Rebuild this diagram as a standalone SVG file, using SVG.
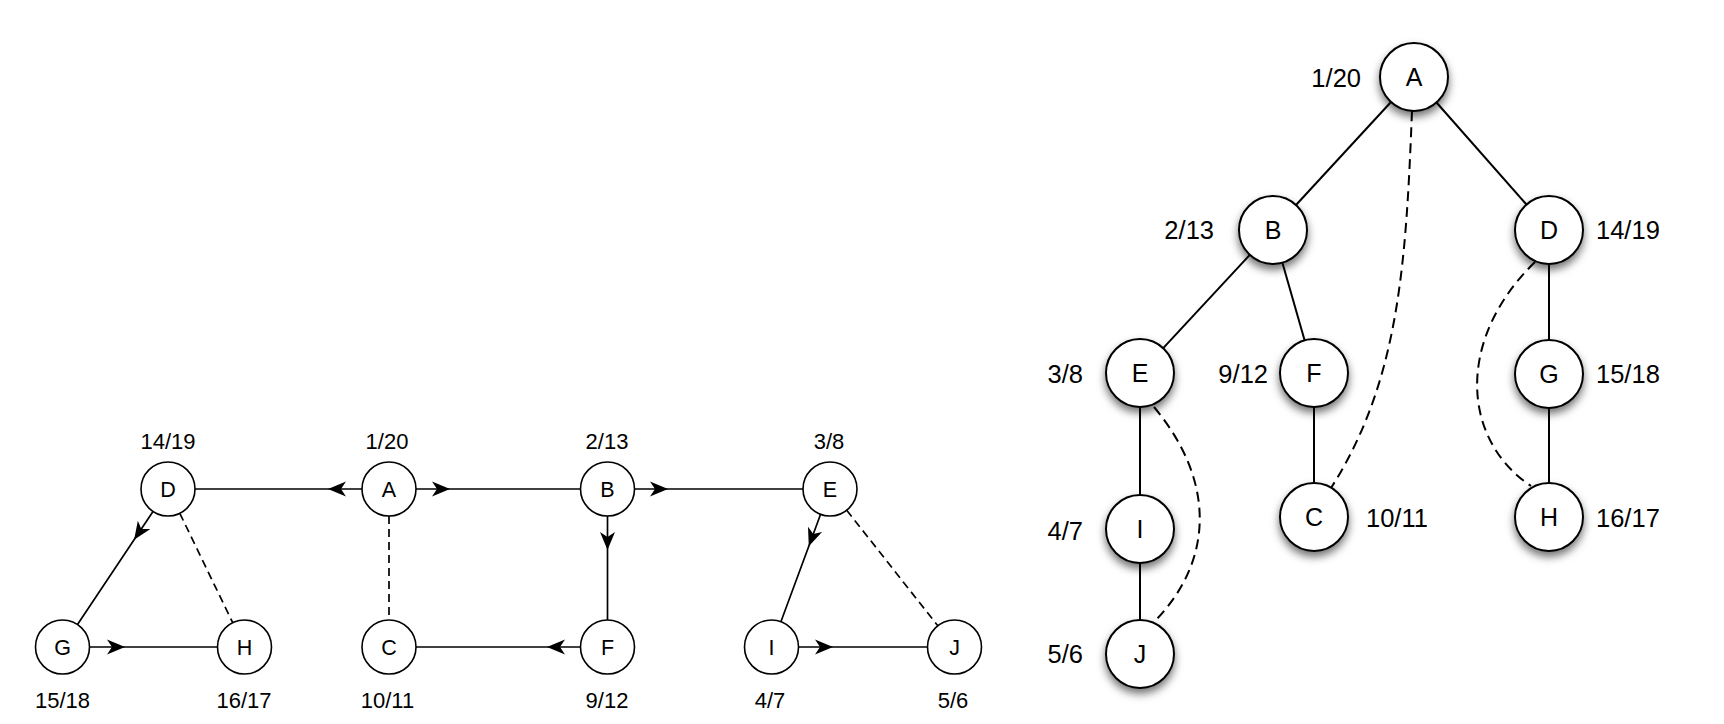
<svg xmlns="http://www.w3.org/2000/svg" width="1724" height="724" viewBox="0 0 1724 724">
<style>
.bg{fill:#fff}
.n1 circle{fill:#fff;stroke:#000;stroke-width:1.6}
.n2 circle{fill:#fff;stroke:#000;stroke-width:2;filter:url(#sh)}
text{font-family:"Liberation Sans",Arial,sans-serif;fill:#000}
.t1{font-size:21.5px;text-anchor:middle}
.t2{font-size:25px;text-anchor:middle}
.l1{font-size:22px;text-anchor:middle}
.l2{font-size:25.5px}
.e{fill:none;stroke:#000;stroke-width:1.7}
.e2{fill:none;stroke:#000;stroke-width:2}
.d1{stroke-dasharray:8 5}
.d2{stroke-dasharray:10 6}
.arr{marker-mid:url(#ah)}
</style>
<defs>
<marker id="ah" markerUnits="userSpaceOnUse" orient="auto" refX="0" refY="0" markerWidth="20" markerHeight="20" overflow="visible">
<path d="M0,0 L-18,-7.5 L-13,0 L-18,7.5 Z" fill="#000" stroke="none"/>
</marker>
<filter id="sh" x="-50%" y="-50%" width="200%" height="220%">
<feDropShadow dx="0" dy="5" stdDeviation="4" flood-color="#000" flood-opacity="0.55"/>
</filter>
</defs>
<rect class="bg" width="1724" height="724"/>
<g id="connectors">
<path class="e arr" d="M362,489 L328,489 L195,489"/>
<path class="e arr" d="M416,489 L450,489 L580,489"/>
<path class="e arr" d="M635,489 L668,489 L803,489"/>
<path class="e arr" d="M607.5,516 L607.5,550 L607.5,620"/>
<path class="e arr" d="M580,647 L547,647 L416,647"/>
<path class="e arr" d="M90,647 L125,647 L217,647"/>
<path class="e arr" d="M799,647 L833,647 L927,647"/>
<path class="e arr" d="M153,511.5 L134.1,539.8 L77.5,624.5"/>
<path class="e arr" d="M820.6,514.3 L808.8,546.2 L780.9,621.7"/>
<path class="e d1" d="M179.8,513.3 L232.7,622.7"/>
<path class="e d1" d="M846.7,510.2 L937.8,625.8"/>
<path class="e d1" d="M389,516 L389,620"/>
<path class="e2" d="M1391,102 L1296,205"/>
<path class="e2" d="M1436.5,102.5 L1526.5,204.5"/>
<path class="e2" d="M1249.8,254.9 L1163.2,348.1"/>
<path class="e2" d="M1282.4,262.7 L1304.6,340.3"/>
<path class="e2" d="M1140,407 L1140,495"/>
<path class="e2" d="M1140,563 L1140,620"/>
<path class="e2" d="M1314,407 L1314,483"/>
<path class="e2" d="M1549,264 L1549,340"/>
<path class="e2" d="M1549,408 L1549,483"/>
<path class="e2 d2" d="M1412,111 C1406,260 1400,380 1331,488"/>
<path class="e2 d2" d="M1154,407 C1215,480 1215,560 1154,622"/>
<path class="e2 d2" d="M1535,262 C1455,340 1462,440 1531,486"/>
</g>
<g id="L-D" class="n1"><circle cx="168" cy="489" r="27"/><text class="t1" x="168" y="497">D</text><text class="l1" x="168" y="449">14/19</text></g>
<g id="L-A" class="n1"><circle cx="389" cy="489" r="27"/><text class="t1" x="389" y="497">A</text><text class="l1" x="387" y="449">1/20</text></g>
<g id="L-B" class="n1"><circle cx="607.5" cy="489" r="27"/><text class="t1" x="607.5" y="497">B</text><text class="l1" x="607" y="449">2/13</text></g>
<g id="L-E" class="n1"><circle cx="830" cy="489" r="27"/><text class="t1" x="830" y="497">E</text><text class="l1" x="829" y="449">3/8</text></g>
<g id="L-G" class="n1"><circle cx="62.5" cy="647" r="27"/><text class="t1" x="62.5" y="655">G</text><text class="l1" x="62.5" y="708">15/18</text></g>
<g id="L-H" class="n1"><circle cx="244.5" cy="647" r="27"/><text class="t1" x="244.5" y="655">H</text><text class="l1" x="244" y="708">16/17</text></g>
<g id="L-C" class="n1"><circle cx="389" cy="647" r="27"/><text class="t1" x="389" y="655">C</text><text class="l1" x="387.5" y="708">10/11</text></g>
<g id="L-F" class="n1"><circle cx="607.5" cy="647" r="27"/><text class="t1" x="607.5" y="655">F</text><text class="l1" x="607" y="708">9/12</text></g>
<g id="L-I" class="n1"><circle cx="771.5" cy="647" r="27"/><text class="t1" x="771.5" y="655">I</text><text class="l1" x="770" y="708">4/7</text></g>
<g id="L-J" class="n1"><circle cx="954.5" cy="647" r="27"/><text class="t1" x="954.5" y="655">J</text><text class="l1" x="953" y="708">5/6</text></g>
<g id="R-A" class="n2"><circle cx="1414" cy="77" r="34"/><text class="t2" x="1414" y="86">A</text><text class="l2" x="1361" y="87" text-anchor="end">1/20</text></g>
<g id="R-B" class="n2"><circle cx="1273" cy="230" r="34"/><text class="t2" x="1273" y="239">B</text><text class="l2" x="1214" y="239" text-anchor="end">2/13</text></g>
<g id="R-D" class="n2"><circle cx="1549" cy="230" r="34"/><text class="t2" x="1549" y="239">D</text><text class="l2" x="1596" y="239">14/19</text></g>
<g id="R-E" class="n2"><circle cx="1140" cy="373" r="34"/><text class="t2" x="1140" y="382">E</text><text class="l2" x="1083" y="383" text-anchor="end">3/8</text></g>
<g id="R-F" class="n2"><circle cx="1314" cy="373" r="34"/><text class="t2" x="1314" y="382">F</text><text class="l2" x="1268" y="383" text-anchor="end">9/12</text></g>
<g id="R-G" class="n2"><circle cx="1549" cy="374" r="34"/><text class="t2" x="1549" y="383">G</text><text class="l2" x="1596" y="383">15/18</text></g>
<g id="R-C" class="n2"><circle cx="1314" cy="517" r="34"/><text class="t2" x="1314" y="526">C</text><text class="l2" x="1366" y="527">10/11</text></g>
<g id="R-H" class="n2"><circle cx="1549" cy="517" r="34"/><text class="t2" x="1549" y="526">H</text><text class="l2" x="1596" y="527">16/17</text></g>
<g id="R-I" class="n2"><circle cx="1140" cy="529" r="34"/><text class="t2" x="1140" y="538">I</text><text class="l2" x="1083" y="540" text-anchor="end">4/7</text></g>
<g id="R-J" class="n2"><circle cx="1140" cy="654" r="34"/><text class="t2" x="1140" y="663">J</text><text class="l2" x="1083" y="663" text-anchor="end">5/6</text></g>
</svg>
